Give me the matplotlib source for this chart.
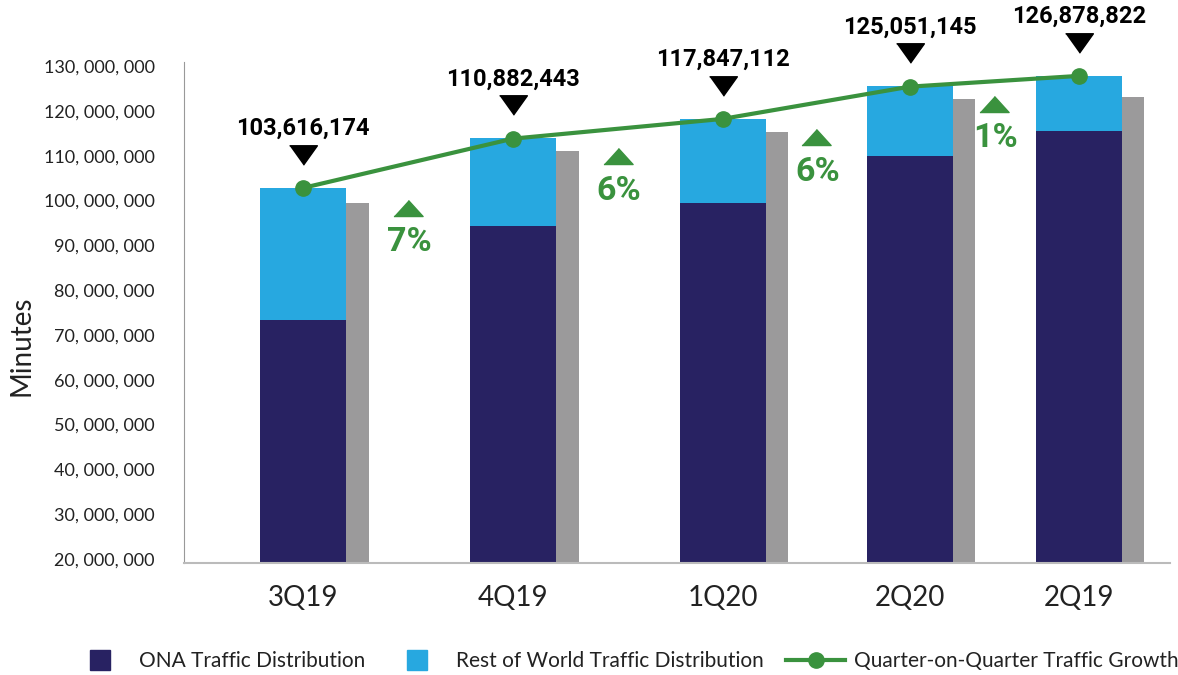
import matplotlib
matplotlib.use('Agg')
import matplotlib.pyplot as plt
from matplotlib.lines import Line2D
from matplotlib.ticker import FuncFormatter
from matplotlib.transforms import offset_copy

# datos (minutos)
quarters = ['3Q19', '4Q19', '1Q20', '2Q20', '2Q19']
ona = [73.3e6, 94.3e6, 99.5e6, 110.0e6, 115.5e6]
rest_world = [29.5e6, 19.7e6, 18.7e6, 15.6e6, 12.3e6]
gray_bar = [99.5e6, 111.0e6, 115.3e6, 122.7e6, 123.1e6]
growth_line = [102.8e6, 113.8e6, 118.2e6, 125.4e6, 127.8e6]
total_labels = ['103,616,174', '110,882,443', '117,847,112', '125,051,145', '126,878,822']
growth_labels = ['7%', '6%', '6%', '1%']

# posiciones de las categorias (el original no esta espaciado uniforme)
xpos = [0, 1, 1.998, 2.89, 3.695]

navy = '#282262'
blue = '#27a8e0'
gray = '#9b9a9b'
green = '#3a923e'

plt.rcParams['font.family'] = ['Lato', 'DejaVu Sans']

fig = plt.figure(figsize=(11.78, 6.75), dpi=100)
ax = fig.add_axes([184/1178, 1-563/675, (1170-184)/1178, (563-62)/675])

w = 0.41
gw = 0.107
ax.bar(xpos, ona, width=w, color=navy, zorder=2)
ax.bar(xpos, rest_world, width=w, bottom=ona, color=blue, zorder=2)
ax.bar([x + w/2 for x in xpos], gray_bar, width=gw, align='edge', color=gray, zorder=1)

ax.plot(xpos, growth_line, color=green, lw=3, marker='o', ms=11, zorder=4)

# triangulos negros y etiquetas de total
tri_down = [(-1, 0.7), (1, 0.7), (0, -0.7)]
tri_up = [(-1, -0.55), (1, -0.55), (0, 0.55)]
tr_tri = offset_copy(ax.transData, fig=fig, y=24, units='points')
ax.plot(xpos, growth_line, ls='none', marker=tri_down, ms=20, color='black',
        transform=tr_tri, clip_on=False, zorder=5)
for x, y, lab in zip(xpos, growth_line, total_labels):
    ax.annotate(lab, (x, y), xytext=(0, 43), textcoords='offset points',
                ha='center', va='center', fontsize=17, fontweight='bold',
                family='Roboto', color='black', annotation_clip=False)

# crecimiento trimestral
for i, lab in enumerate(growth_labels):
    xm = (xpos[i] + xpos[i+1]) / 2
    ym = gray_bar[i] - 1.1e6
    ax.plot([xm], [ym], ls='none', marker=tri_up, ms=21, color=green, zorder=5)
    ax.annotate(lab, (xm, ym), xytext=(1, -25), textcoords='offset points',
                ha='center', va='center', fontsize=24.5, fontweight='bold',
                family='Roboto', color=green)

ax.set_xlim(-0.567, 4.129)
ax.set_ylim(19.1e6, 130.9e6)
ax.set_yticks([i * 10e6 for i in range(2, 14)])
ax.yaxis.set_major_formatter(FuncFormatter(lambda v, p: f'{v:,.0f}'.replace(',', ', ')))
ax.set_xticks(xpos)
ax.set_xticklabels(quarters)
ax.tick_params(axis='y', length=0, pad=21, labelsize=13, labelcolor='#222222')
ax.tick_params(axis='x', length=0, pad=16, labelsize=20, labelcolor='#222222')
for s in ['top', 'right']:
    ax.spines[s].set_visible(False)
ax.spines['left'].set_color('#999999')
ax.spines['bottom'].set_color('#bbbbbb')
ax.spines['bottom'].set_linewidth(1.5)

fig.text(22/1178, 1-346/675, 'Minutes', rotation=90, ha='center', va='center',
         fontsize=20, color='#222222')

handles = [Line2D([0], [0], ls='none', marker='s', ms=14, color=navy),
           Line2D([0], [0], ls='none', marker='s', ms=14, color=blue),
           Line2D([0], [0], color=green, lw=3, marker='o', ms=11)]
fig.legend(handles, ['ONA Traffic Distribution', 'Rest of World Traffic Distribution',
                     'Quarter-on-Quarter Traffic Growth'],
           loc='center', bbox_to_anchor=(625/1178, 1-661/675), ncol=3, frameon=False,
           fontsize=15, handlelength=2.8, handletextpad=0.45, columnspacing=1.1,
           labelcolor='#222222')

fig.savefig('out.png', dpi=100)
